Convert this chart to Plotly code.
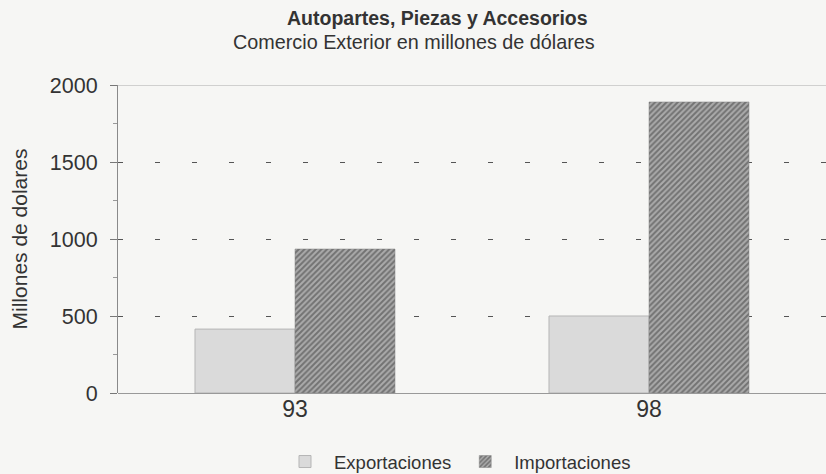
import plotly.graph_objects as go

categories = ["93", "98"]
exportaciones = [415, 500]
importaciones = [935, 1890]
y_ticks = [0, 500, 1000, 1500, 2000]

title_text = "Autopartes, Piezas y Accesorios"
subtitle_text = "Comercio Exterior en millones de dólares"

FONT = "Liberation Sans, Arial, sans-serif"
TXT = "#333333"

fig = go.Figure()
fig.add_trace(go.Bar(
    x=categories, y=exportaciones, name="Exportaciones",
    marker=dict(color="#dadada", line=dict(color="#b5b5b5", width=1)),
))
fig.add_trace(go.Bar(
    x=categories, y=importaciones, name="Importaciones",
    marker=dict(color="#8a8a8a",
                pattern=dict(shape="/", fgcolor="#3a3a3a", bgcolor="#ababab", size=4, solidity=0.5),
                line=dict(color="#808080", width=0.5)),
))

fig.update_layout(
    width=826, height=474,
    paper_bgcolor="#f6f6f4", plot_bgcolor="#f6f6f4",
    font=dict(family=FONT, color=TXT),
    barmode="group", bargap=0.435, bargroupgap=0,
    margin=dict(l=118, r=0, t=85, b=81, autoexpand=False),
    legend=dict(orientation="h", x=(456 - 118) / 708, xanchor="center", y=-0.224, yanchor="middle",
                font=dict(size=18.5, family=FONT, color=TXT), bgcolor="rgba(0,0,0,0)",
                traceorder="normal", itemwidth=48),
    showlegend=True,
    annotations=[
        dict(text="<b>" + title_text + "</b>", xref="paper", yref="paper",
             x=(437 - 118) / 708, y=(393 - 18) / 308, xanchor="center", yanchor="middle",
             showarrow=False, font=dict(size=19.5, family=FONT, color=TXT)),
        dict(text=subtitle_text, xref="paper", yref="paper",
             x=(414 - 118) / 708, y=(393 - 42) / 308, xanchor="center", yanchor="middle",
             showarrow=False, font=dict(size=19.8, family=FONT, color=TXT)),
    ],
)
fig.update_xaxes(
    type="category", showgrid=False, showline=False,
    tickfont=dict(size=23, family=FONT, color=TXT),
    ticks="", zeroline=False,
)
fig.update_yaxes(
    range=[0, 2000], tickvals=y_ticks, ticktext=[str(v) for v in y_ticks],
    tickfont=dict(size=21.5, family=FONT, color=TXT),
    showgrid=True, gridcolor="#555555", griddash="5px,32px", gridwidth=1.2,
    showline=True, linecolor="#8a8a8a", linewidth=1,
    ticks="outside", ticklen=7, tickcolor="#777777", ticklabelstandoff=8,
    minor=dict(dtick=250, ticks="outside", ticklen=4, tickcolor="#999999", showgrid=False),
    zeroline=True, zerolinecolor="#999999", zerolinewidth=1,
    title=dict(text="Millones de dolares", font=dict(size=21, family=FONT, color=TXT), standoff=16),
)
# top frame line at 2000
fig.add_shape(type="line", xref="paper", yref="y", x0=0, x1=1, y0=2000, y1=2000,
              line=dict(color="#aaaaaa", width=1))

fig.write_html("out.html",
               config={"displayModeBar": False},
               post_script="document.body.style.margin='0';document.body.style.overflow='hidden';document.body.style.background='#f6f6f4';")
